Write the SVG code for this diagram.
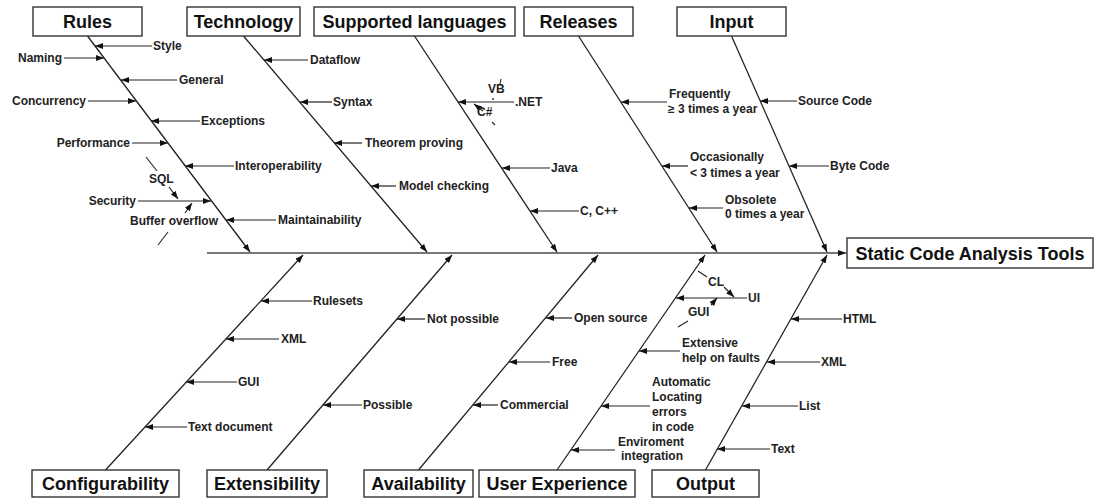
<svg xmlns="http://www.w3.org/2000/svg" width="1095" height="499" viewBox="0 0 1095 499">
<style>
.box{fill:#fff;stroke:#333;stroke-width:1.4}
.title{font-family:"Liberation Sans",Arial,sans-serif;font-weight:bold;font-size:18px;fill:#111;text-anchor:middle}
.lbl{font-family:"Liberation Sans",Arial,sans-serif;font-weight:bold;font-size:12px;fill:#222}
.end{text-anchor:end}
.bone{stroke:#222;stroke-width:1.3;fill:none}
.sub{stroke:#222;stroke-width:1.2;fill:none;marker-end:url(#ah)}
.tick{stroke:#222;stroke-width:1.1;fill:none}
.spine{stroke:#777;stroke-width:2.2;fill:none;marker-end:url(#ah)}
</style>
<defs>
<marker id="ah" viewBox="0 0 8 6" markerWidth="8" markerHeight="6" markerUnits="userSpaceOnUse" refX="8" refY="3" orient="auto">
<path d="M0,0 L8,3 L0,6 z" fill="#111"/>
</marker>
</defs>
<rect width="1095" height="499" fill="#fff"/>

<g id="connectors">
<line class="spine" x1="207" y1="253" x2="846" y2="253"/>
<!-- main bones -->
<line class="bone" x1="87.5" y1="36" x2="250" y2="252" marker-end="url(#ah)"/>
<line class="bone" x1="243.5" y1="36" x2="427" y2="252" marker-end="url(#ah)"/>
<line class="bone" x1="414.5" y1="36" x2="557" y2="252" marker-end="url(#ah)"/>
<line class="bone" x1="578.5" y1="36" x2="717" y2="252" marker-end="url(#ah)"/>
<line class="bone" x1="731.5" y1="36" x2="827" y2="252" marker-end="url(#ah)"/>
<line class="bone" x1="105.5" y1="470" x2="303" y2="255" marker-end="url(#ah)"/>
<line class="bone" x1="267" y1="470" x2="452" y2="255" marker-end="url(#ah)"/>
<line class="bone" x1="418.5" y1="470" x2="598" y2="255" marker-end="url(#ah)"/>
<line class="bone" x1="557" y1="470" x2="705" y2="255" marker-end="url(#ah)"/>
<line class="bone" x1="705.5" y1="470" x2="827" y2="255" marker-end="url(#ah)"/>
<!-- Rules -->
<line class="sub" x1="152" y1="46" x2="95" y2="46"/>
<line class="sub" x1="64" y1="58" x2="104" y2="58"/>
<line class="sub" x1="177" y1="80" x2="121" y2="80"/>
<line class="sub" x1="88" y1="101" x2="136" y2="101"/>
<line class="sub" x1="200" y1="121" x2="151" y2="121"/>
<line class="sub" x1="132" y1="143" x2="168" y2="143"/>
<line class="sub" x1="234" y1="166" x2="185" y2="166"/>
<line class="sub" x1="138" y1="201" x2="211" y2="201"/>
<line class="sub" x1="276" y1="220" x2="226" y2="220"/>
<line class="tick" x1="146" y1="157" x2="157" y2="171"/>
<line class="sub" x1="169" y1="187" x2="178" y2="199"/>
<line class="sub" x1="185" y1="213" x2="192" y2="203"/>
<line class="tick" x1="158" y1="245" x2="168" y2="232"/>
<!-- Technology -->
<line class="sub" x1="308" y1="60" x2="264" y2="60"/>
<line class="sub" x1="332" y1="102" x2="300" y2="102"/>
<line class="sub" x1="362" y1="143" x2="334" y2="143"/>
<line class="sub" x1="396" y1="186" x2="371" y2="186"/>
<!-- Supported languages -->
<line class="sub" x1="514" y1="102" x2="458" y2="102"/>
<line class="tick" x1="501" y1="79" x2="500" y2="84"/>
<circle cx="493" cy="99" r="0.9" fill="#222"/>
<line class="sub" x1="483" y1="111" x2="474" y2="104"/>
<line class="tick" x1="492" y1="122" x2="495" y2="125"/>
<line class="sub" x1="550" y1="168" x2="502" y2="168"/>
<line class="sub" x1="579" y1="211" x2="530" y2="211"/>
<!-- Releases -->
<line class="sub" x1="667" y1="102" x2="621" y2="102"/>
<line class="sub" x1="688" y1="166" x2="662" y2="166"/>
<line class="sub" x1="723" y1="208" x2="689" y2="208"/>
<!-- Input -->
<line class="sub" x1="797" y1="101" x2="760" y2="101"/>
<line class="sub" x1="829" y1="166" x2="789" y2="166"/>
<!-- Configurability -->
<line class="sub" x1="312" y1="301" x2="261" y2="301"/>
<line class="sub" x1="279" y1="339" x2="226" y2="339"/>
<line class="sub" x1="237" y1="382" x2="186" y2="382"/>
<line class="sub" x1="187" y1="427" x2="145" y2="427"/>
<!-- Extensibility -->
<line class="sub" x1="425" y1="319" x2="397" y2="319"/>
<line class="sub" x1="362" y1="405" x2="323" y2="405"/>
<!-- Availability -->
<line class="sub" x1="572" y1="318" x2="546" y2="318"/>
<line class="sub" x1="550" y1="362" x2="509" y2="362"/>
<line class="sub" x1="498" y1="405" x2="473" y2="405"/>
<!-- User Experience -->
<line class="sub" x1="747" y1="298" x2="676" y2="298"/>
<line class="tick" x1="698" y1="271" x2="707" y2="277"/>
<line class="sub" x1="724" y1="287" x2="734" y2="297"/>
<line class="sub" x1="711" y1="305" x2="717" y2="298"/>
<line class="tick" x1="678" y1="327" x2="688" y2="321"/>
<line class="sub" x1="680" y1="351" x2="639" y2="351"/>
<line class="sub" x1="650" y1="406" x2="601" y2="406"/>
<line class="sub" x1="615" y1="450" x2="571" y2="450"/>
<!-- Output -->
<line class="sub" x1="842" y1="319" x2="791" y2="319"/>
<line class="sub" x1="820" y1="362" x2="767" y2="362"/>
<line class="sub" x1="798" y1="406" x2="742" y2="406"/>
<line class="sub" x1="770" y1="449" x2="717" y2="449"/>
</g>

<g id="static-code-analysis-tools">
<rect class="box" x="847" y="238" width="246" height="30"/>
<text class="title" x="970" y="259.5">Static Code Analysis Tools</text>
</g>

<g id="rules">
<rect class="box" x="33" y="7" width="109" height="29"/>
<text class="title" x="87.5" y="28">Rules</text>
<text class="lbl" x="153" y="50.3">Style</text>
<text class="lbl end" x="62" y="62.3">Naming</text>
<text class="lbl" x="179" y="84.3">General</text>
<text class="lbl end" x="86" y="105.3">Concurrency</text>
<text class="lbl" x="201" y="125.3">Exceptions</text>
<text class="lbl end" x="130" y="147.3">Performance</text>
<text class="lbl" x="235" y="170.3">Interoperability</text>
<text class="lbl end" x="136" y="205.3">Security</text>
<text class="lbl" x="149" y="183.3">SQL</text>
<text class="lbl" x="130" y="225.3">Buffer overflow</text>
<text class="lbl" x="278" y="224.3">Maintainability</text>
</g>

<g id="technology">
<rect class="box" x="187" y="7" width="113" height="29"/>
<text class="title" x="243.5" y="28">Technology</text>
<text class="lbl" x="310" y="64.3">Dataflow</text>
<text class="lbl" x="333" y="106.3">Syntax</text>
<text class="lbl" x="365" y="147.3">Theorem proving</text>
<text class="lbl" x="399" y="190.3">Model checking</text>
</g>

<g id="supported-languages">
<rect class="box" x="314" y="7" width="201" height="29"/>
<text class="title" x="414.5" y="28">Supported languages</text>
<text class="lbl" x="515" y="106.3">.NET</text>
<text class="lbl" x="488" y="93.3">VB</text>
<text class="lbl" x="477" y="116.3">C#</text>
<text class="lbl" x="551" y="172.3">Java</text>
<text class="lbl" x="580" y="215.3">C, C++</text>
</g>

<g id="releases">
<rect class="box" x="524" y="7" width="109" height="29"/>
<text class="title" x="578.5" y="28">Releases</text>
<text class="lbl" x="669" y="98.3">Frequently</text>
<text class="lbl" x="668" y="113.3">≥ 3 times a year</text>
<text class="lbl" x="690" y="161.3">Occasionally</text>
<text class="lbl" x="690" y="177.3">&lt; 3 times a year</text>
<text class="lbl" x="725" y="204.3">Obsolete</text>
<text class="lbl" x="725" y="218.3">0 times a year</text>
</g>

<g id="input">
<rect class="box" x="677" y="7" width="109" height="29"/>
<text class="title" x="731.5" y="28">Input</text>
<text class="lbl" x="798" y="105.3">Source Code</text>
<text class="lbl" x="830" y="170.3">Byte Code</text>
</g>

<g id="configurability">
<rect class="box" x="32" y="470" width="147" height="27"/>
<text class="title" x="105.5" y="490">Configurability</text>
<text class="lbl" x="313" y="305.3">Rulesets</text>
<text class="lbl" x="281" y="343.3">XML</text>
<text class="lbl" x="238" y="386.3">GUI</text>
<text class="lbl" x="188" y="431.3">Text document</text>
</g>

<g id="extensibility">
<rect class="box" x="207" y="470" width="120" height="27"/>
<text class="title" x="267" y="490">Extensibility</text>
<text class="lbl" x="427" y="323.3">Not possible</text>
<text class="lbl" x="363" y="409.3">Possible</text>
</g>

<g id="availability">
<rect class="box" x="364" y="470" width="109" height="27"/>
<text class="title" x="418.5" y="490">Availability</text>
<text class="lbl" x="574" y="322.3">Open source</text>
<text class="lbl" x="552" y="366.3">Free</text>
<text class="lbl" x="500" y="409.3">Commercial</text>
</g>

<g id="user-experience">
<rect class="box" x="479" y="470" width="156" height="27"/>
<text class="title" x="557" y="490">User Experience</text>
<text class="lbl" x="748" y="302.3">UI</text>
<text class="lbl" x="708" y="286.3">CL</text>
<text class="lbl" x="688" y="316.3">GUI</text>
<text class="lbl" x="682" y="347.3">Extensive</text>
<text class="lbl" x="682" y="362.3">help on faults</text>
<text class="lbl" x="652" y="386.3">Automatic</text>
<text class="lbl" x="652" y="401.3">Locating</text>
<text class="lbl" x="652" y="416.3">errors</text>
<text class="lbl" x="652" y="431.3">in code</text>
<text class="lbl" x="618" y="446.3">Enviroment</text>
<text class="lbl" x="621" y="460.3">integration</text>
</g>

<g id="output">
<rect class="box" x="652" y="470" width="107" height="27"/>
<text class="title" x="705.5" y="490">Output</text>
<text class="lbl" x="843" y="323.3">HTML</text>
<text class="lbl" x="821" y="366.3">XML</text>
<text class="lbl" x="799" y="410.3">List</text>
<text class="lbl" x="771" y="453.3">Text</text>
</g>
</svg>
